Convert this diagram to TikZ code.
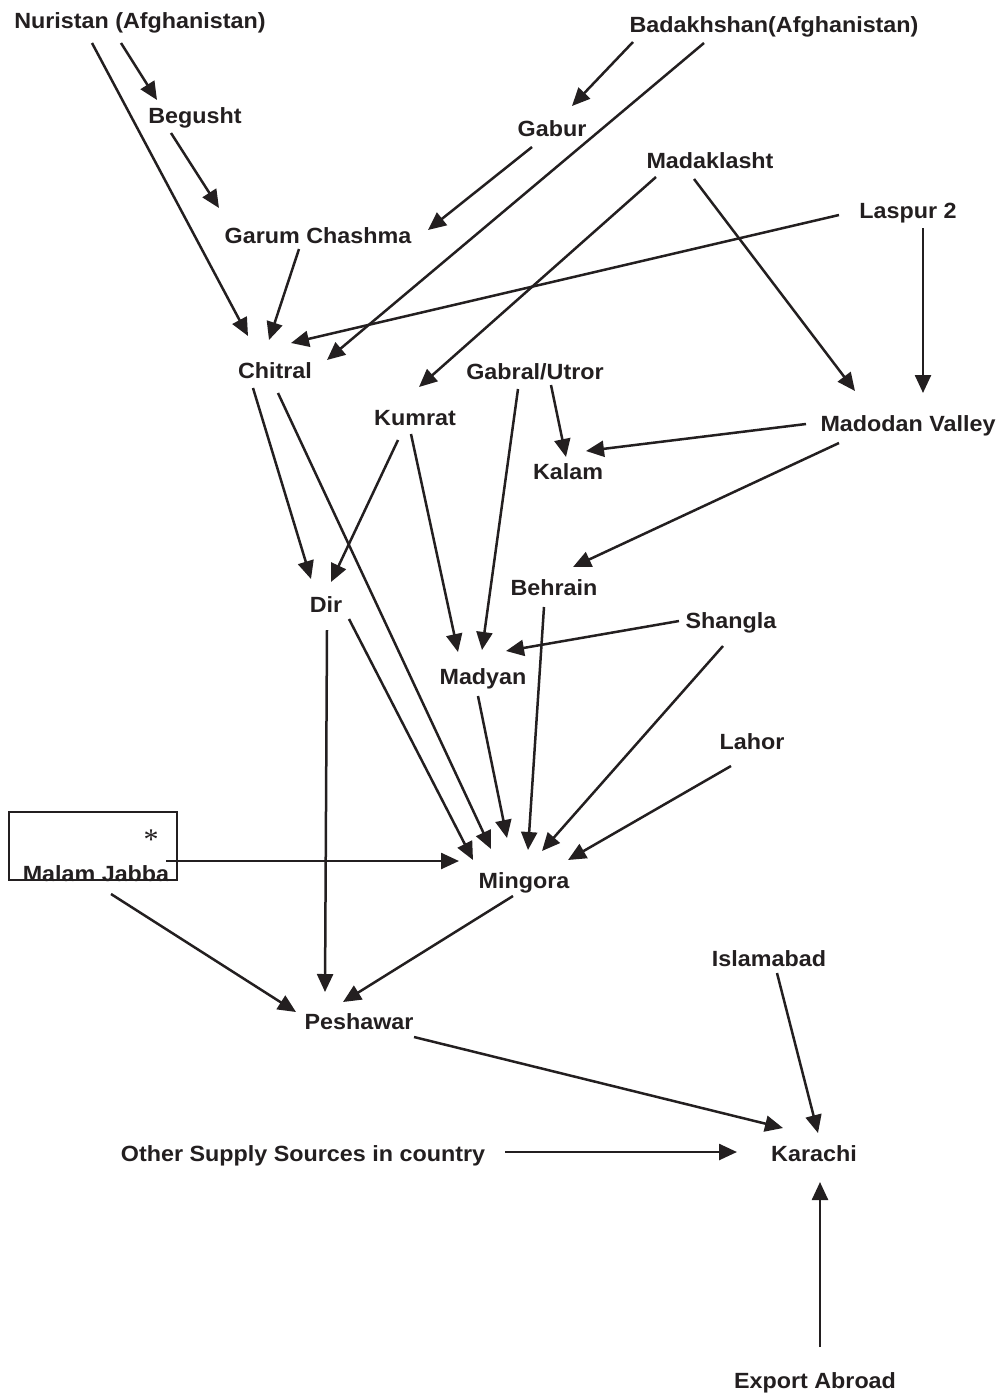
\documentclass[tikz,border=0pt]{standalone}
\usepackage{fontspec}
\setmainfont{Liberation Sans}[FakeStretch=1.06]
\newfontfamily\serifast{Liberation Serif}
\usetikzlibrary{arrows.meta}
\definecolor{ink}{RGB}{35,31,32}
\tikzset{
  lbl/.style={anchor=base, inner sep=0pt, font=\fontsize{11}{13}\selectfont\bfseries, text=ink},
  arr/.style={draw=ink, line width=1.25pt, -{Triangle[length=9pt,width=8pt]}},
  boxst/.style={draw=ink, line width=0.8pt}
}
\begin{document}
\begin{tikzpicture}[x=0.5pt,y=-0.5pt]
\useasboundingbox (0,0) rectangle (1002,1393);
% labels
\node[lbl] (nur) at (140,28) {Nuristan (Afghanistan)};
\node[lbl] (bad) at (774,32) {Badakhshan(Afghanistan)};
\node[lbl] (beg) at (195,123) {Begusht};
\node[lbl] (gab) at (552,136) {Gabur};
\node[lbl] (mad) at (710,168) {Madaklasht};
\node[lbl] (las) at (908,218) {Laspur 2};
\node[lbl] (gar) at (318,243) {Garum Chashma};
\node[lbl] (chi) at (275,378) {Chitral};
\node[lbl] (gbu) at (535,379) {Gabral/Utror};
\node[lbl] (kum) at (415,425) {Kumrat};
\node[lbl] (mdv) at (908,431) {Madodan Valley};
\node[lbl] (kal) at (568,479) {Kalam};
\node[lbl] (beh) at (554,595) {Behrain};
\node[lbl] (dir) at (326,612) {Dir};
\node[lbl] (sha) at (731,628) {Shangla};
\node[lbl] (mdy) at (483,684) {Madyan};
\node[lbl] (lah) at (752,749) {Lahor};
\node[boxst, minimum width=84pt, minimum height=34pt, inner sep=0pt] (mjbox) at (93,846) {};
\node[inner sep=0pt, text=ink, font=\serifast\fontsize{15}{15}\selectfont] (ast) at (151,840) {*};
\node[lbl] (mal) at (96,881) {Malam Jabba};
\node[lbl] (min) at (524,888) {Mingora};
\node[lbl] (isl) at (769,966) {Islamabad};
\node[lbl] (pes) at (359,1029) {Peshawar};
\node[lbl] (oth) at (303,1161) {Other Supply Sources in country};
\node[lbl] (kar) at (814,1161) {Karachi};
\node[lbl] (exp) at (815,1388) {Export Abroad};
% connector end points
\coordinate (a1s) at (121,43);  \coordinate (a1e) at (157,100);
\coordinate (a2s) at (171,133); \coordinate (a2e) at (219,208);
\coordinate (a3s) at (92,43);   \coordinate (a3e) at (248,336);
\coordinate (a4s) at (633,42);  \coordinate (a4e) at (572,106);
\coordinate (a5s) at (704,43);  \coordinate (a5e) at (327,360);
\coordinate (a6s) at (532,147); \coordinate (a6e) at (428,230);
\coordinate (a7s) at (299,249); \coordinate (a7e) at (269,340);
\coordinate (a8s) at (656,177); \coordinate (a8e) at (419,387);
\coordinate (a9s) at (694,179); \coordinate (a9e) at (855,391);
\coordinate (a10s) at (839,215); \coordinate (a10e) at (291,343);
\coordinate (a11s) at (923,228); \coordinate (a11e) at (923,393);
\coordinate (a12s) at (551,385); \coordinate (a12e) at (566,457);
\coordinate (a13s) at (806,424); \coordinate (a13e) at (586,451);
\coordinate (a14s) at (839,443); \coordinate (a14e) at (573,567);
\coordinate (a15s) at (253,388); \coordinate (a15e) at (311,579);
\coordinate (a16s) at (278,393); \coordinate (a16e) at (491,849);
\coordinate (a17s) at (398,440); \coordinate (a17e) at (331,582);
\coordinate (a18s) at (411,434); \coordinate (a18e) at (458,652);
\coordinate (a19s) at (518,389); \coordinate (a19e) at (482,650);
\coordinate (a20s) at (544,607); \coordinate (a20e) at (528,850);
\coordinate (a21s) at (679,621); \coordinate (a21e) at (506,651);
\coordinate (a22s) at (349,619); \coordinate (a22e) at (473,860);
\coordinate (a23s) at (327,630); \coordinate (a23e) at (325,992);
\coordinate (a24s) at (478,696); \coordinate (a24e) at (507,838);
\coordinate (a25s) at (723,646); \coordinate (a25e) at (542,851);
\coordinate (a26s) at (731,766); \coordinate (a26e) at (568,860);
\coordinate (a27s) at (166,861); \coordinate (a27e) at (459,861);
\coordinate (a28s) at (111,894); \coordinate (a28e) at (296,1012);
\coordinate (a29s) at (513,896); \coordinate (a29e) at (343,1002);
\coordinate (a30s) at (414,1037); \coordinate (a30e) at (783,1128);
\coordinate (a31s) at (777,973); \coordinate (a31e) at (818,1133);
\coordinate (a32s) at (505,1152); \coordinate (a32e) at (737,1152);
\coordinate (a33s) at (820,1347); \coordinate (a33e) at (820,1182);
\foreach \i in {1,...,33} { \draw[arr] (a\i s) -- (a\i e); }
\end{tikzpicture}
\end{document}
